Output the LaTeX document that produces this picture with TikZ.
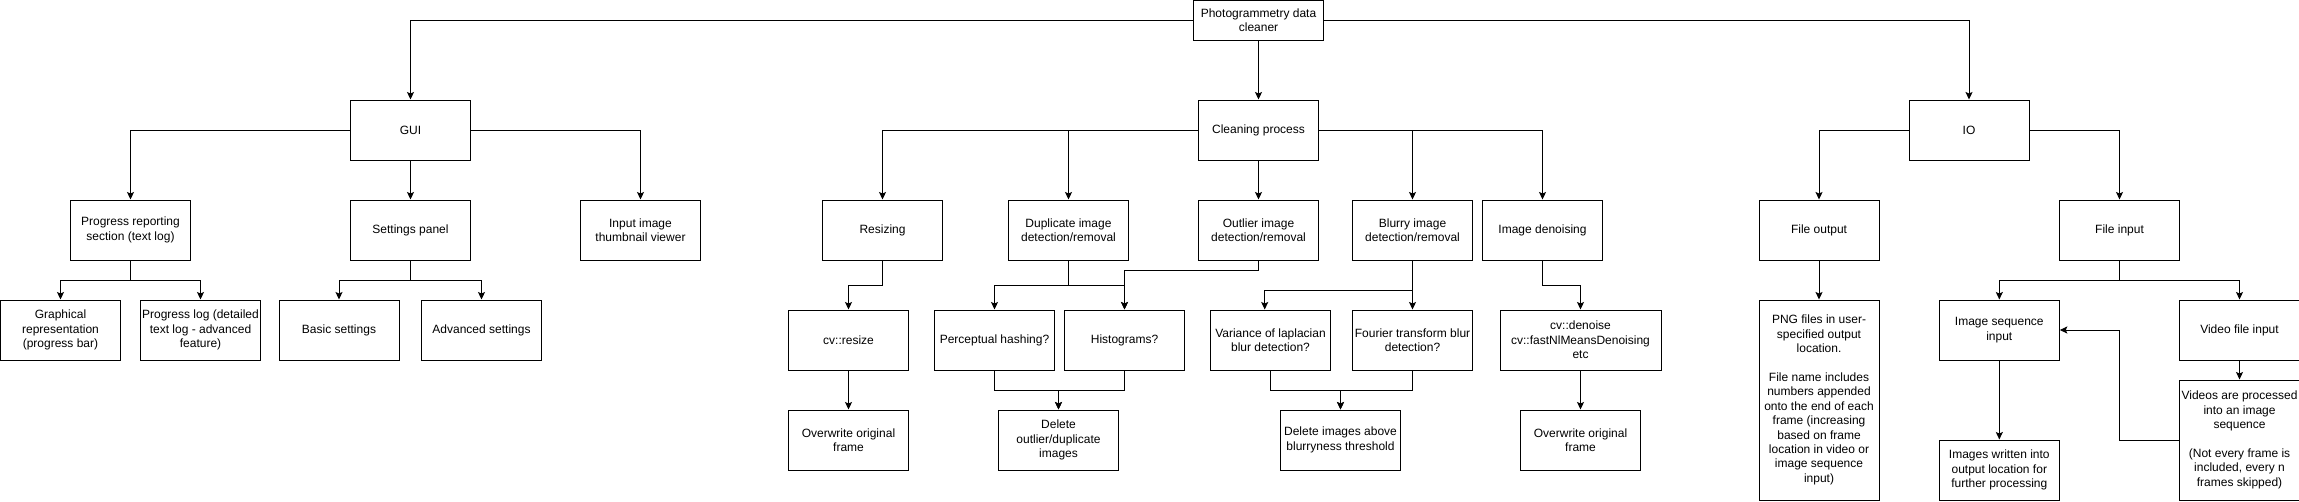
\documentclass[tikz,border=0pt]{standalone}
\usepackage{fontspec}
\setmainfont{Liberation Sans}
\usetikzlibrary{arrows.meta}
\tikzset{
  box/.style={draw=black, line width=1pt, fill=white, minimum width=120pt, minimum height=60pt,
    inner sep=0pt, align=center, font=\fontsize{12}{14.4}\selectfont},
  arr/.style={draw=black, line width=1pt, -{Stealth[length=7.5pt,width=7pt,inset=1.5pt]}},
  ln/.style={draw=black, line width=1pt},
}
\begin{document}
\begin{tikzpicture}[x=1pt,y=-1pt]
\useasboundingbox (0,0) rectangle (2299,501);
% level 0/1
\node[box, minimum width=130pt, minimum height=40pt] (root) at (1258.5,20) {Photogrammetry data\\cleaner};
\node[box] (gui) at (410.5,130) {GUI};
\node[box] (clean) at (1258.5,130) {Cleaning process};
\node[box] (io) at (1969,130) {IO};
% level 2
\node[box] (prog) at (130.5,230) {Progress reporting\\section (text log)};
\node[box] (settings) at (410.5,230) {Settings panel};
\node[box] (thumb) at (640.5,230) {Input image\\thumbnail viewer};
\node[box] (resize) at (882.5,230) {Resizing};
\node[box] (dup) at (1068.5,230) {Duplicate image\\detection/removal};
\node[box] (outlier) at (1258.5,230) {Outlier image\\detection/removal};
\node[box] (blurry) at (1412.5,230) {Blurry image\\detection/removal};
\node[box] (denoise) at (1542.5,230) {Image denoising};
\node[box] (fileout) at (1819,230) {File output};
\node[box] (filein) at (2119.5,230) {File input};
% level 3
\node[box] (graph) at (60.5,330) {Graphical\\representation\\(progress bar)};
\node[box] (proglog) at (200.5,330) {Progress log (detailed\\text log - advanced\\feature)};
\node[box] (basic) at (339,330) {Basic settings};
\node[box] (adv) at (481.5,330) {Advanced settings};
\node[box] (cvresize) at (848.5,340) {cv::resize};
\node[box] (ow1) at (848.5,440) {Overwrite original\\frame};
\node[box] (perc) at (994.5,340) {Perceptual hashing?};
\node[box] (hist) at (1124.5,340) {Histograms?};
\node[box] (del1) at (1058.5,440) {Delete\\outlier/duplicate\\images};
\node[box] (var) at (1270.5,340) {Variance of laplacian\\blur detection?};
\node[box] (fourier) at (1412.5,340) {Fourier transform blur\\detection?};
\node[box] (del2) at (1340.5,440) {Delete images above\\blurryness threshold};
\node[box, minimum width=161pt] (cvden) at (1580.5,340) {cv::denoise\\cv::fastNlMeansDenoising\\etc};
\node[box] (ow2) at (1580.5,440) {Overwrite original\\frame};
\node[box, minimum height=200pt] (png) at (1819,400) {PNG files in user-\\specified output\\location.\\[14.4pt]File name includes\\numbers appended\\onto the end of each\\frame (increasing\\based on frame\\location in video or\\image sequence\\input)};
\node[box] (imgseq) at (1999.3,330) {Image sequence\\input};
\node[box] (video) at (2239.5,330) {Video file input};
\node[box, minimum height=120pt] (vidproc) at (2239.5,440) {Videos are processed\\into an image\\sequence\\[14.4pt](Not every frame is\\included, every n\\frames skipped)};
\node[box] (imgwr) at (1999.3,470) {Images written into\\output location for\\further processing};
% connectors level 0/1
\draw[arr] (root.west) -| (gui.north);
\draw[arr] (root.east) -| (io.north);
\draw[arr] (root.south) -- (clean.north);
% GUI
\draw[arr] (gui.west) -| (prog.north);
\draw[arr] (gui.south) -- (settings.north);
\draw[arr] (gui.east) -| (thumb.north);
\draw[arr] (prog.south) -- ++(0,20) -| (graph.north);
\draw[arr] (prog.south) -- ++(0,20) -| (proglog.north);
\draw[arr] (settings.south) -- ++(0,20) -| (basic.north);
\draw[arr] (settings.south) -- ++(0,20) -| (adv.north);
% cleaning
\draw[arr] (clean.west) -| (resize.north);
\draw[arr] (clean.west) -| (dup.north);
\draw[arr] (clean.south) -- (outlier.north);
\draw[arr] (clean.east) -| (blurry.north);
\draw[arr] (clean.east) -| (denoise.north);
\draw[arr] (resize.south) -- ++(0,25) -| (cvresize.north);
\draw[arr] (cvresize.south) -- (ow1.north);
\draw[arr] (dup.south) -- ++(0,25) -| (perc.north);
\draw[arr] (dup.south) -- ++(0,25) -| (hist.north);
\draw[arr] (outlier.south) -- ++(0,10) -| (hist.north);
\draw[arr] (perc.south) -- ++(0,20) -| (del1.north);
\draw[arr] (hist.south) -- ++(0,20) -| (del1.north);
\draw[arr] (blurry.south) -- ++(0,30) -| ([xshift=-5.8pt]var.north);
\draw[arr] (blurry.south) -- (fourier.north);
\draw[arr] (var.south) -- ++(0,20) -| (del2.north);
\draw[arr] (fourier.south) -- ++(0,20) -| (del2.north);
\draw[arr] (denoise.south) -- ++(0,25) -| (cvden.north);
\draw[arr] (cvden.south) -- (ow2.north);
% IO
\draw[arr] (io.west) -| (fileout.north);
\draw[arr] (io.east) -| (filein.north);
\draw[arr] (fileout.south) -- (png.north);
\draw[arr] (filein.south) -- ++(0,20) -| (imgseq.north);
\draw[arr] (filein.south) -- ++(0,20) -| (video.north);
\draw[arr] (video.south) -- (vidproc.north);
\draw[arr] (imgseq.south) -- (imgwr.north);
\draw[arr] (vidproc.west) -- ++(-60,0) |- (imgseq.east);
\end{tikzpicture}
\end{document}
